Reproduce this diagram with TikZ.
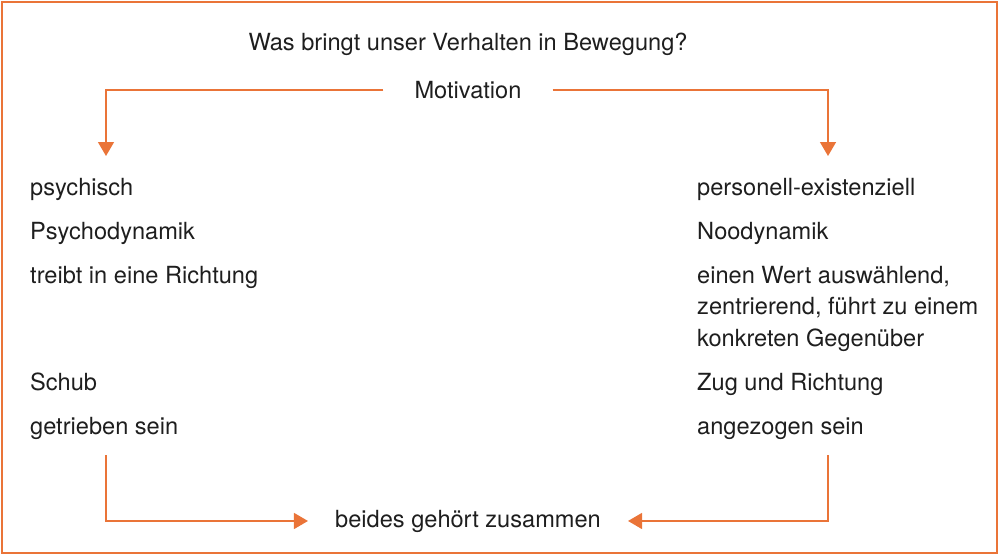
\documentclass[tikz,border=0pt]{standalone}
\usepackage{fontspec}
\setmainfont{TeX Gyre Heros}
\usetikzlibrary{arrows.meta}
\definecolor{motorange}{RGB}{234,116,56}
\definecolor{txtgray}{RGB}{30,30,30}

\begin{document}
\begin{tikzpicture}[x=1pt,y=-1pt,
  lbl/.style={anchor=base west,inner sep=0pt,text=txtgray,font=\fontsize{23.6}{31.5}\selectfont,align=left},
  arr/.style={draw=motorange,line width=1.4pt,-{Triangle[width=16pt,length=14pt]}}]
\useasboundingbox (0,0) rectangle (1000,555);
\draw [motorange,line width=2pt] (2,2) rectangle (997,553);

\node (frage) at (468,50.5) [lbl,anchor=base] {Was bringt unser Verhalten in Bewegung?};
\node (mot) at (468,98.5) [lbl,anchor=base,inner xsep=31pt] {Motivation};

\node (psy) at (30,195) [lbl] {psychisch};
\node (psydyn) at (30,239) [lbl] {Psychodynamik};
\node (treibt) at (30,283) [lbl] {treibt in eine Richtung};
\node (schub) at (30,390) [lbl] {Schub};
\node (getr) at (30,434) [lbl] {getrieben sein};

\node (pers) at (697,195) [lbl] {personell-existenziell};
\node (noo) at (697,239) [lbl] {Noodynamik};
% base of a multi-line node is its last line
\node (wert) at (697,346) [lbl] {einen Wert auswählend,\\zentrierend, führt zu einem\\konkreten Gegenüber};
\node (zug) at (697,390) [lbl] {Zug und Richtung};
\node (angez) at (697,434) [lbl] {angezogen sein};

\node (beides) at (468,527) [lbl,anchor=base,inner xsep=27pt] {beides gehört zusammen};

\coordinate (ltip) at (106,156);
\coordinate (rtip) at (828,156);
\coordinate (lbot) at (106,455);
\coordinate (rbot) at (828,455);

\draw [arr] (mot.west) -| (ltip);
\draw [arr] (mot.east) -| (rtip);
\draw [arr] (lbot) |- (beides.west);
\draw [arr] (rbot) |- (beides.east);
\end{tikzpicture}
\end{document}
